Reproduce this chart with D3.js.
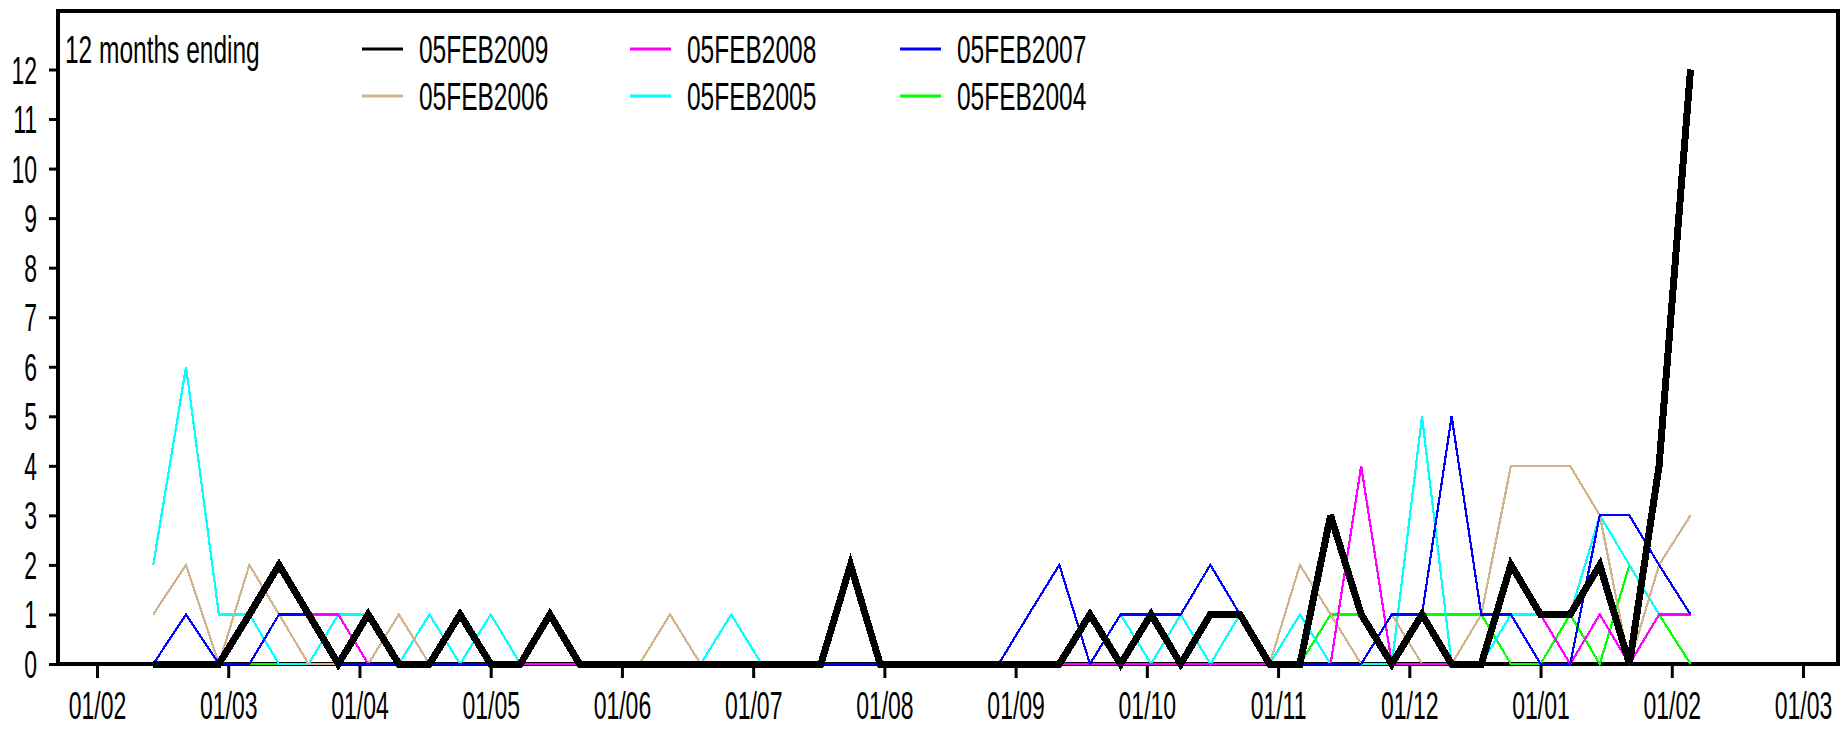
<!DOCTYPE html>
<html lang="en">
<head>
    <meta charset="UTF-8">
    <script src="https://d3js.org/d3.v7.min.js"></script>
    <style>
        body { margin: 0; background: #fff; font-family: "Liberation Sans", Arial, sans-serif; }
        .tick line { stroke: #000; stroke-width: 3px; }
        .series { fill: none; shape-rendering: crispEdges; }
    </style>
</head>
<body>
    <div id="chart"></div>

    <script>
        // month tick labels (dd/mm), Feb to Mar of the following year
        const monthLabels = ["01/02", "01/03", "01/04", "01/05", "01/06", "01/07", "01/08",
                             "01/09", "01/10", "01/11", "01/12", "01/01", "01/02", "01/03"];

        // weekly points, 12 months ending 05 Feb
        const weeks = ["13/02","20/02","27/02","06/03","13/03","20/03","27/03","03/04","10/04","17/04",
                       "24/04","01/05","08/05","15/05","22/05","29/05","05/06","12/06","19/06","26/06",
                       "03/07","10/07","17/07","24/07","31/07","07/08","14/08","21/08","28/08","04/09",
                       "11/09","18/09","25/09","02/10","09/10","16/10","23/10","30/10","06/11","13/11",
                       "20/11","27/11","04/12","11/12","18/12","25/12","01/01","08/01","15/01","22/01",
                       "29/01","05/02"];

        const feb2009 = [0,0,0,1,2,1,0,1,0,0,1,0,0,1,0, 0,0,0,0,0,0,0,0, 2, 0,0,0,0,0,0,0,
                         1,0,1,0,1,1,0,0,3,1,0,1,0,0,2,1,1,2,0,4,12];
        const feb2008 = [0,0,0,0,1,1,1,0, 0,0,0,0,0,0,0,0,0,0,0,0,0,0,0,0,0,0,0,0,0,0,0,0,0,0,0,0,0,0,0,0,
                         4,0,0,0,0,2,1,0,1,0,1,1];
        const feb2007 = [0,1,0,0,1,1,0, 0,0,0,0,0,0, 1, 0,0,0,0,0,0,0,0,0,0,0,0,0,0,0,
                         1,2,0,1,1,1,2,1,0,0,0,0,1,1,5,1,1,0,0,3,3,2,1];
        const feb2006 = [1,2,0,2,1,0,0,0,1,0, 0,0,0,0,0,0,0, 1, 0,0,0,0,0,0,0,0,0,0,0,0,0,0,0,0,0,
                         1,1,0,2,1,0,1,0,0,1,4,4,4,3,0,2,3];
        const feb2005 = [2,6,1,1,0,0,1,1,0,1,0,1, 0,0,0,0,0,0,0, 1, 0,0,0,0,0,0,0,0,0,0,0,0,
                         1,0,1,0,1,0,1,0,0,0,5,0,0,1,1,1,3,2,1,1];
        const feb2004 = [0,0,0,0,0,0,0, 1, 0,0,0,0,0,0,0,0,0,0,0,0,0,0,0,0,0,0,0,0,0,0,0,
                         1, 0,0,0,0,0,0,0, 1,1,0,1,1,1,0,0,1,0,2,1,0];

        const seriesNames = ["05FEB2009", "05FEB2008", "05FEB2007", "05FEB2006", "05FEB2005", "05FEB2004"];
        const seriesValues = [feb2009, feb2008, feb2007, feb2006, feb2005, feb2004];
        const seriesColors = ["#000000", "#ff00ff", "#0000ff", "#d2b48c", "#00ffff", "#00ff00"];

        const W = 1841, H = 729;
        const plot = { left: 58, right: 1838, top: 11, bottom: 664 };
        const stretch = 1.65;   // tall narrow lettering of the original

        // dd/mm -> months since 1 Feb (running, so the second Feb is 12)
        const daysIn = [31, 28, 31, 30, 31, 30, 31, 31, 30, 31, 30, 31];
        let wrap = 0, prevM = 2;
        const weekPos = weeks.map(s => {
            const [dd, mm] = s.split("/").map(Number);
            if (mm < prevM) wrap += 12;
            prevM = mm;
            return (mm - 2) + wrap + (dd - 1) / daysIn[mm - 1];
        });

        const svg = d3.select("#chart").append("svg")
            .attr("width", W)
            .attr("height", H);

        const x = d3.scaleLinear().domain([0, 13]).range([97, 1803]);
        const y = d3.scaleLinear().domain([0, 12]).range([plot.bottom, 69.5]);

        // x axis
        const gx = svg.append("g")
            .attr("transform", `translate(0,${plot.bottom})`)
            .call(d3.axisBottom(x)
                .tickValues(d3.range(monthLabels.length))
                .tickFormat(i => monthLabels[i])
                .tickSize(14));
        gx.select(".domain").remove();
        gx.selectAll("text")
            .attr("fill", "#000")
            .style("font-size", "23px")
            .attr("dy", 0)
            .attr("y", 55 / stretch)
            .attr("transform", `scale(1,${stretch})`);

        // y axis
        const gy = svg.append("g")
            .attr("transform", `translate(${plot.left},0)`)
            .call(d3.axisLeft(y)
                .tickValues(d3.range(13))
                .tickFormat(d3.format("d"))
                .tickSize(9));
        gy.select(".domain").remove();
        gy.selectAll("text")
            .attr("fill", "#000")
            .style("font-size", "23px")
            .attr("x", -21)
            .attr("dy", 0)
            .attr("y", 13.5 / stretch)
            .attr("transform", `scale(1,${stretch})`);

        // frame
        svg.append("rect")
            .attr("x", plot.left)
            .attr("y", plot.top)
            .attr("width", plot.right - plot.left)
            .attr("height", plot.bottom - plot.top)
            .attr("fill", "none")
            .attr("stroke", "#000")
            .attr("stroke-width", 4);

        const line = d3.line()
            .x((d, i) => x(weekPos[i]))
            .y(d => y(d));

        // oldest first so the current year ends on top
        const drawOrder = [5, 4, 3, 1, 2, 0];
        drawOrder.forEach(k => {
            svg.append("path")
                .datum(seriesValues[k])
                .attr("class", "series")
                .attr("d", line)
                .attr("stroke", seriesColors[k])
                .attr("stroke-width", k === 0 ? 7 : 2.2);
        });

        // legend
        const legend = svg.append("g");
        legend.append("text")
            .attr("transform", `translate(65,63) scale(1,1.6)`)
            .style("font-size", "24.5px")
            .text("12 months ending");

        const colX = [362, 630, 900];
        const rowY = [49, 96];
        seriesNames.forEach((name, i) => {
            const cx = colX[i % 3], cy = rowY[Math.floor(i / 3)];
            legend.append("line")
                .attr("x1", cx).attr("x2", cx + 41)
                .attr("y1", cy).attr("y2", cy)
                .attr("stroke", seriesColors[i])
                .attr("stroke-width", 3);
            legend.append("text")
                .attr("transform", `translate(${cx + 57},${cy + 14}) scale(1,1.6)`)
                .style("font-size", "24.5px")
                .text(name);
        });
    </script>
</body>
</html>
